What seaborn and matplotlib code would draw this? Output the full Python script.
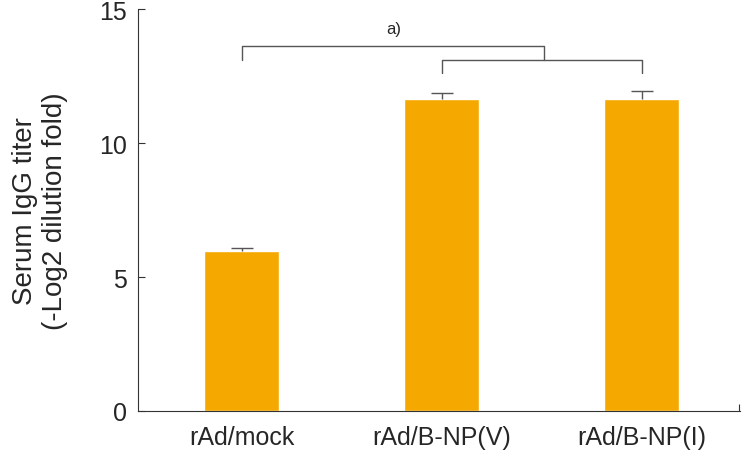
import matplotlib.pyplot as plt
import numpy as np
import pandas as pd
import seaborn as sns

# Data
groups = ['rAd/mock', 'rAd/B-NP(V)', 'rAd/B-NP(I)']
titer = [5.97, 11.64, 11.64]
sem = [0.13, 0.22, 0.30]

sns.set_style('white')
plt.rcParams['font.family'] = ['Liberation Sans', 'DejaVu Sans']

df = pd.DataFrame({'group': groups, 'titer': titer})

fig = plt.figure(figsize=(7.45, 4.52), dpi=100)
ax = fig.add_axes([0.185, 0.0885, 0.808, 0.889])

sns.barplot(data=df, x='group', y='titer', color='#F5A800', saturation=1,
            width=0.375, errorbar=None, ax=ax)
x = np.arange(len(groups))
eb = ax.errorbar(x, titer, yerr=[np.zeros(len(sem)), sem], fmt='none',
                 ecolor='#555555', elinewidth=1, capsize=8, capthick=1)
eb[1][0].set_visible(False)  # only the upper cap

# significance brackets
lc = '#555555'
ax.plot([0, 0, 1.51, 1.51], [13.1, 13.62, 13.62, 13.12], color=lc, lw=1)
ax.plot([1, 1, 2, 2], [12.62, 13.12, 13.12, 12.62], color=lc, lw=1)
ax.text(0.76, 14.0, 'a)', ha='center', va='bottom', fontsize=12)

ax.set_xlim(-0.52, 2.49)
ax.set_ylim(0, 15)
ax.set_yticks([0, 5, 10, 15])
ax.tick_params(axis='y', left=True, direction='in', length=5, labelsize=18,
               width=0.8, color='#333333', pad=8)
ax.tick_params(axis='x', length=0, labelsize=18, pad=10)
# small end tick at the right of the x axis
ax.set_xticks([2.485], minor=True)
ax.tick_params(axis='x', which='minor', bottom=True, direction='in', length=5,
               width=0.8, color='#333333')
ax.set_xlabel('')
ax.set_ylabel('Serum IgG titer\n(-Log2 dilution fold)', fontsize=20, labelpad=22)
sns.despine(ax=ax)
for s in ['left', 'bottom']:
    ax.spines[s].set_color('#333333')
    ax.spines[s].set_linewidth(0.8)

fig.savefig('out.png', dpi=100)
